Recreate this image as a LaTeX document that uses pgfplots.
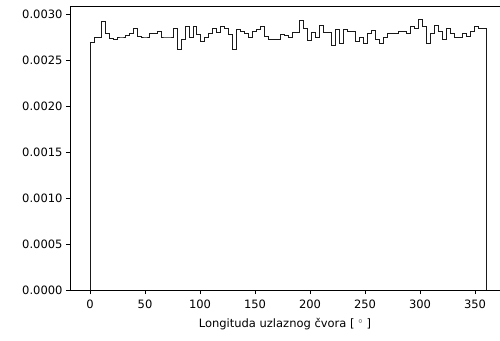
\documentclass[border=0pt]{standalone}
\usepackage{fontspec}
\setmainfont{DejaVu Sans}
\usepackage{pgfplots}
\usepackage{pgfplotstable}
\pgfplotsset{compat=1.18}
\pgfplotstableread{
x y
0 0
0 0.00269
3.6 0.00274
7.2 0.00274
10.8 0.00292
14.4 0.00279
18.0 0.00273
21.6 0.00272
25.2 0.00275
28.8 0.00275
32.4 0.00277
36.0 0.00279
39.6 0.00284
43.2 0.00276
46.8 0.00275
50.4 0.00275
54.0 0.00279
57.6 0.00279
61.2 0.00281
64.8 0.00275
68.4 0.00275
72.0 0.00275
75.6 0.00284
79.2 0.00262
82.8 0.00272
86.4 0.00287
90.0 0.00275
93.6 0.00287
97.2 0.00278
100.8 0.00270
104.4 0.00275
108.0 0.00279
111.6 0.00284
115.2 0.00280
118.8 0.00287
122.4 0.00284
126.0 0.00278
129.6 0.00262
133.2 0.00283
136.8 0.00281
140.4 0.00279
144.0 0.00275
147.6 0.00281
151.2 0.00283
154.8 0.00286
158.4 0.00276
162.0 0.00272
165.6 0.00272
169.2 0.00272
172.8 0.00278
176.4 0.00277
180.0 0.00274
183.6 0.00280
187.2 0.00280
190.8 0.00293
194.4 0.00284
198.0 0.00271
201.6 0.00280
205.2 0.00275
208.8 0.00288
212.4 0.00280
216.0 0.00280
219.6 0.00266
223.2 0.00283
226.8 0.00268
230.4 0.00283
234.0 0.00281
237.6 0.00281
241.2 0.00270
244.8 0.00274
248.4 0.00268
252.0 0.00279
255.6 0.00282
259.2 0.00272
262.8 0.00268
266.4 0.00275
270.0 0.00279
273.6 0.00279
277.2 0.00279
280.8 0.00281
284.4 0.00281
288.0 0.00279
291.6 0.00286
295.2 0.00284
298.8 0.00294
302.4 0.00286
306.0 0.00268
309.6 0.00279
313.2 0.00288
316.8 0.00281
320.4 0.00272
324.0 0.00284
327.6 0.00279
331.2 0.00274
334.8 0.00274
338.4 0.00279
342.0 0.00276
345.6 0.00281
349.2 0.00287
352.8 0.00284
356.4 0.00284
360.0 0.00284
360.0 0
}\histdata
\begin{document}
\begin{tikzpicture}
\begin{axis}[
  width=430pt, height=284pt, scale only axis,
  xmin=-18.2, xmax=372.7, ymin=0, ymax=0.003087,
  axis x line*=box, axis y line*=left,
  axis line style={line width=0.9pt, black},
  tick style={line width=0.9pt, black},
  tick align=outside, major tick length=4pt,
  xtick pos=left, ytick pos=left,
  xtick={0,50,100,150,200,250,300,350},
  ytick={0,0.0005,0.001,0.0015,0.002,0.0025,0.003},
  minor tick num=0,
  scaled y ticks=false,
  yticklabel style={/pgf/number format/.cd, fixed, fixed zerofill, precision=4},
  /pgf/number format/assume math mode=true,
  tick label style={font=\fontsize{11.5}{13}\selectfont},
  xticklabel style={yshift=-2pt},
  xlabel={Longituda uzlaznog čvora [ $^\circ$ ]},
  xlabel style={font=\fontsize{11.5}{13}\selectfont, at={(axis description cs:0.5,0)}, anchor=center, yshift=-34pt},
]
\addplot[const plot, black!90, line width=0.9pt] table[x=x, y=y] {\histdata};
\end{axis}
\pgfresetboundingbox
\path ([xshift=-70pt,yshift=-50pt]current axis.south west) rectangle ([yshift=6pt]current axis.north east);
\end{tikzpicture}
\end{document}
